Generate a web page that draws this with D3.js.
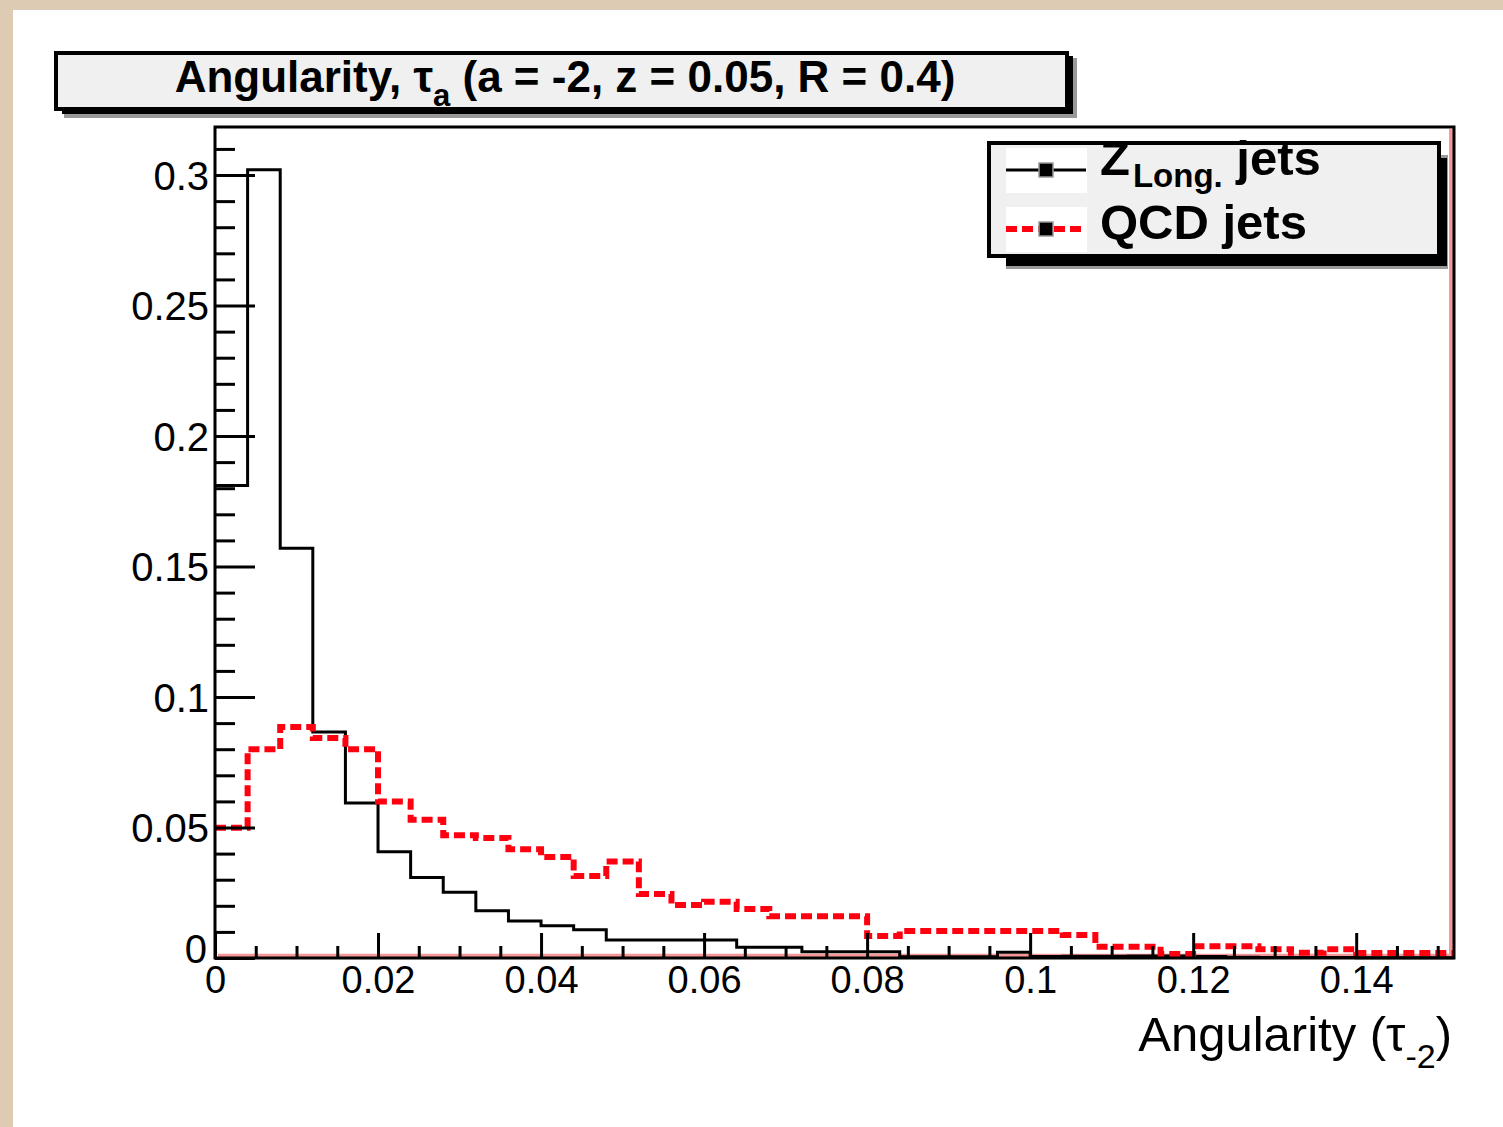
<!DOCTYPE html>
<html><head><meta charset="utf-8">
<script src="https://cdn.jsdelivr.net/npm/d3@7"></script>
<style>html,body{margin:0;padding:0;background:#ddcbb3;} svg{display:block;}</style>
</head><body>
<svg id="c" width="1503" height="1127"></svg>
<script>
// ---- data ----
const binWidth = 0.004;
const xDomain = [0, 0.152];
const yDomain = [0, 0.3184];
const zLongJets = [0.181, 0.302, 0.157, 0.0866, 0.0594, 0.0407, 0.0308, 0.0252, 0.0181, 0.0142,
  0.0124, 0.0108, 0.0069, 0.0069, 0.0069, 0.0069, 0.0041, 0.0041, 0.0024, 0.0024,
  0.0024, 0.0005, 0.0005, 0.0005, 0.0022, 0.0006, 0.0007, 0.0007, 0.0008, 0.0008,
  0.0006, 0.0003, 0.0002, 0.0002, 0.0002, 0.0001, 0.0001, 0.0001];
const qcdJets = [0.0499, 0.080, 0.0885, 0.0843, 0.080, 0.060, 0.053, 0.047, 0.046, 0.0417,
  0.0387, 0.0314, 0.037, 0.0245, 0.0203, 0.0216, 0.0188, 0.016, 0.016, 0.016,
  0.0084, 0.0103, 0.0103, 0.0103, 0.0103, 0.0103, 0.0088, 0.0043, 0.0043, 0.0015,
  0.0045, 0.0045, 0.0034, 0.002, 0.0034, 0.0019, 0.0019, 0.0019];
const yTickValues = [0, 0.05, 0.1, 0.15, 0.2, 0.25, 0.3];
const yTickLabels = ["0", "0.05", "0.1", "0.15", "0.2", "0.25", "0.3"];
const xTickValues = [0, 0.02, 0.04, 0.06, 0.08, 0.1, 0.12, 0.14];
const xTickLabels = ["0", "0.02", "0.04", "0.06", "0.08", "0.1", "0.12", "0.14"];
const yMinorStep = 0.01, yMinorMax = 0.31;
const xMinorStep = 0.005, xMinorMax = 0.15;

// ---- layout ----
const svg = d3.select("#c");
const L = 215, T = 127, R = 1454, B = 958;
const x = d3.scaleLinear().domain(xDomain).range([L, R]);
const y = d3.scaleLinear().domain(yDomain).range([B, T]);
const font = "Liberation Sans, Arial, sans-serif";

svg.append("rect").attr("x",0).attr("y",0).attr("width",1503).attr("height",1127).attr("fill","#ddcbb3");
svg.append("rect").attr("x",13).attr("y",10).attr("width",1490).attr("height",1117).attr("fill","#ffffff");

// title box with shadow
svg.append("rect").attr("x",64).attr("y",58).attr("width",1013).attr("height",60).attr("fill","#999");
svg.append("rect").attr("x",62).attr("y",56).attr("width",1011).attr("height",58).attr("fill","#000");
svg.append("rect").attr("x",56).attr("y",53).attr("width",1011).attr("height",56)
  .attr("fill","#f0f0f0").attr("stroke","#000").attr("stroke-width",4);
const title = svg.append("text").attr("x",565).attr("y",92).attr("text-anchor","middle")
  .attr("font-family",font).attr("font-weight","bold")
  .attr("font-size",44).attr("fill","#000");
title.append("tspan").text("Angularity, τ");
title.append("tspan").attr("dy",14).attr("font-size",31).text("a");
title.append("tspan").attr("dy",-14).text(" (a = -2, z = 0.05, R = 0.4)");

// plot area
svg.append("rect").attr("x",L).attr("y",T).attr("width",R-L).attr("height",B-T).attr("fill","#fff");
svg.append("line").attr("x1",L+3).attr("x2",R-3).attr("y1",B-2.5).attr("y2",B-2.5)
  .attr("stroke","#f79797").attr("stroke-width",3.5);
svg.append("line").attr("x1",R-3).attr("x2",R-3).attr("y1",T+2).attr("y2",B-2)
  .attr("stroke","#f79797").attr("stroke-width",4);

function histPts(vals){
  const pts = vals.map((v,i)=>[i*binWidth, v]);
  pts.push([vals.length*binWidth, vals[vals.length-1]]);
  return pts;
}
const line = d3.line().x(d=>x(d[0])).y(d=>y(d[1])).curve(d3.curveStepAfter);

svg.append("path").attr("d", line(histPts(zLongJets))).attr("fill","none")
  .attr("stroke","#000").attr("stroke-width",3).attr("stroke-linejoin","miter");
svg.append("path").attr("d", line(histPts(qcdJets))).attr("fill","none")
  .attr("stroke","#ff0010").attr("stroke-width",6).attr("stroke-dasharray","11,5");

// axes
const yMajor = d3.axisLeft(y).tickValues(yTickValues).tickSizeInner(-40).tickSizeOuter(0)
  .tickPadding(6).tickFormat((d,i)=>yTickLabels[i]);
const yMinorVals = d3.range(0, yMinorMax + 1e-9, yMinorStep).filter(v => !yTickValues.some(t => Math.abs(t-v)<1e-9));
const yMinor = d3.axisLeft(y).tickValues(yMinorVals).tickSizeInner(-20).tickSizeOuter(0).tickFormat("");
const gy = svg.append("g").attr("transform",`translate(${L},0)`).call(yMajor);
const gy2 = svg.append("g").attr("transform",`translate(${L},0)`).call(yMinor);
[gy, gy2].forEach(g=>{ g.select(".domain").remove(); g.selectAll("line").attr("stroke","#000").attr("stroke-width",3); });
gy.selectAll("text").attr("font-family",font).attr("font-size",40).attr("fill","#000")
  .attr("dy",(d)=> d===0 ? "0.1em" : "0.36em").attr("x",(d)=> d===0 ? -8 : -6);

const xMajor = d3.axisBottom(x).tickValues(xTickValues).tickSizeInner(-25).tickSizeOuter(0)
  .tickPadding(8).tickFormat((d,i)=>xTickLabels[i]);
const xMinorVals = d3.range(0, xMinorMax + 1e-9, xMinorStep).filter(v => !xTickValues.some(t => Math.abs(t-v)<1e-9));
const xMinor = d3.axisBottom(x).tickValues(xMinorVals).tickSizeInner(-12).tickSizeOuter(0).tickFormat("");
const gx = svg.append("g").attr("transform",`translate(0,${B})`).call(xMajor);
const gx2 = svg.append("g").attr("transform",`translate(0,${B})`).call(xMinor);
[gx, gx2].forEach(g=>{ g.select(".domain").remove(); g.selectAll("line").attr("stroke","#000").attr("stroke-width",3); });
gx.selectAll("text").attr("font-family",font).attr("font-size",38).attr("fill","#000");

// frame
svg.append("rect").attr("x",L).attr("y",T).attr("width",R-L).attr("height",B-T)
  .attr("fill","none").attr("stroke","#000").attr("stroke-width",3);

// x axis title
const xt = svg.append("text").attr("x",1452).attr("y",1051).attr("text-anchor","end")
  .attr("font-family",font).attr("font-size",49).attr("fill","#000");
xt.append("tspan").text("Angularity (τ");
xt.append("tspan").attr("dy",17).attr("font-size",34).text("-2");
xt.append("tspan").attr("dy",-17).text(")");

// legend
svg.append("rect").attr("x",1006).attr("y",155).attr("width",442).attr("height",114).attr("fill","#999");
svg.append("rect").attr("x",1006).attr("y",158).attr("width",441).attr("height",108).attr("fill","#000");
svg.append("rect").attr("x",989).attr("y",143).attr("width",450).attr("height",113)
  .attr("fill","#f0f0f0").attr("stroke","#000").attr("stroke-width",4);
const legendItems = [
  {label:"Z", sub:"Long.", rest:" jets", color:"#000", width:3, dash:null, cy:170, ty:175},
  {label:"QCD jets", sub:null, rest:null, color:"#ff0010", width:6, dash:"11,5", cy:229, ty:239}
];
legendItems.forEach(it=>{
  svg.append("rect").attr("x",1006).attr("y",it.cy-22).attr("width",81).attr("height",45).attr("fill","#fff");
  svg.append("line").attr("x1",1006).attr("x2",1086).attr("y1",it.cy).attr("y2",it.cy)
    .attr("stroke",it.color).attr("stroke-width",it.width).attr("stroke-dasharray",it.dash);
  svg.append("rect").attr("x",1039).attr("y",it.cy-7).attr("width",14).attr("height",14)
    .attr("fill","#000").attr("stroke","#999").attr("stroke-width",1.5);
  const t = svg.append("text").attr("x",1100).attr("y",it.ty).attr("font-family",font)
    .attr("font-weight","bold").attr("font-size",49).attr("fill","#000");
  t.append("tspan").text(it.label);
  if (it.sub){
    t.append("tspan").attr("dy",12).attr("dx",3).attr("font-size",33).text(it.sub);
    t.append("tspan").attr("dy",-12).text(it.rest);
  }
});
</script>
</body></html>
